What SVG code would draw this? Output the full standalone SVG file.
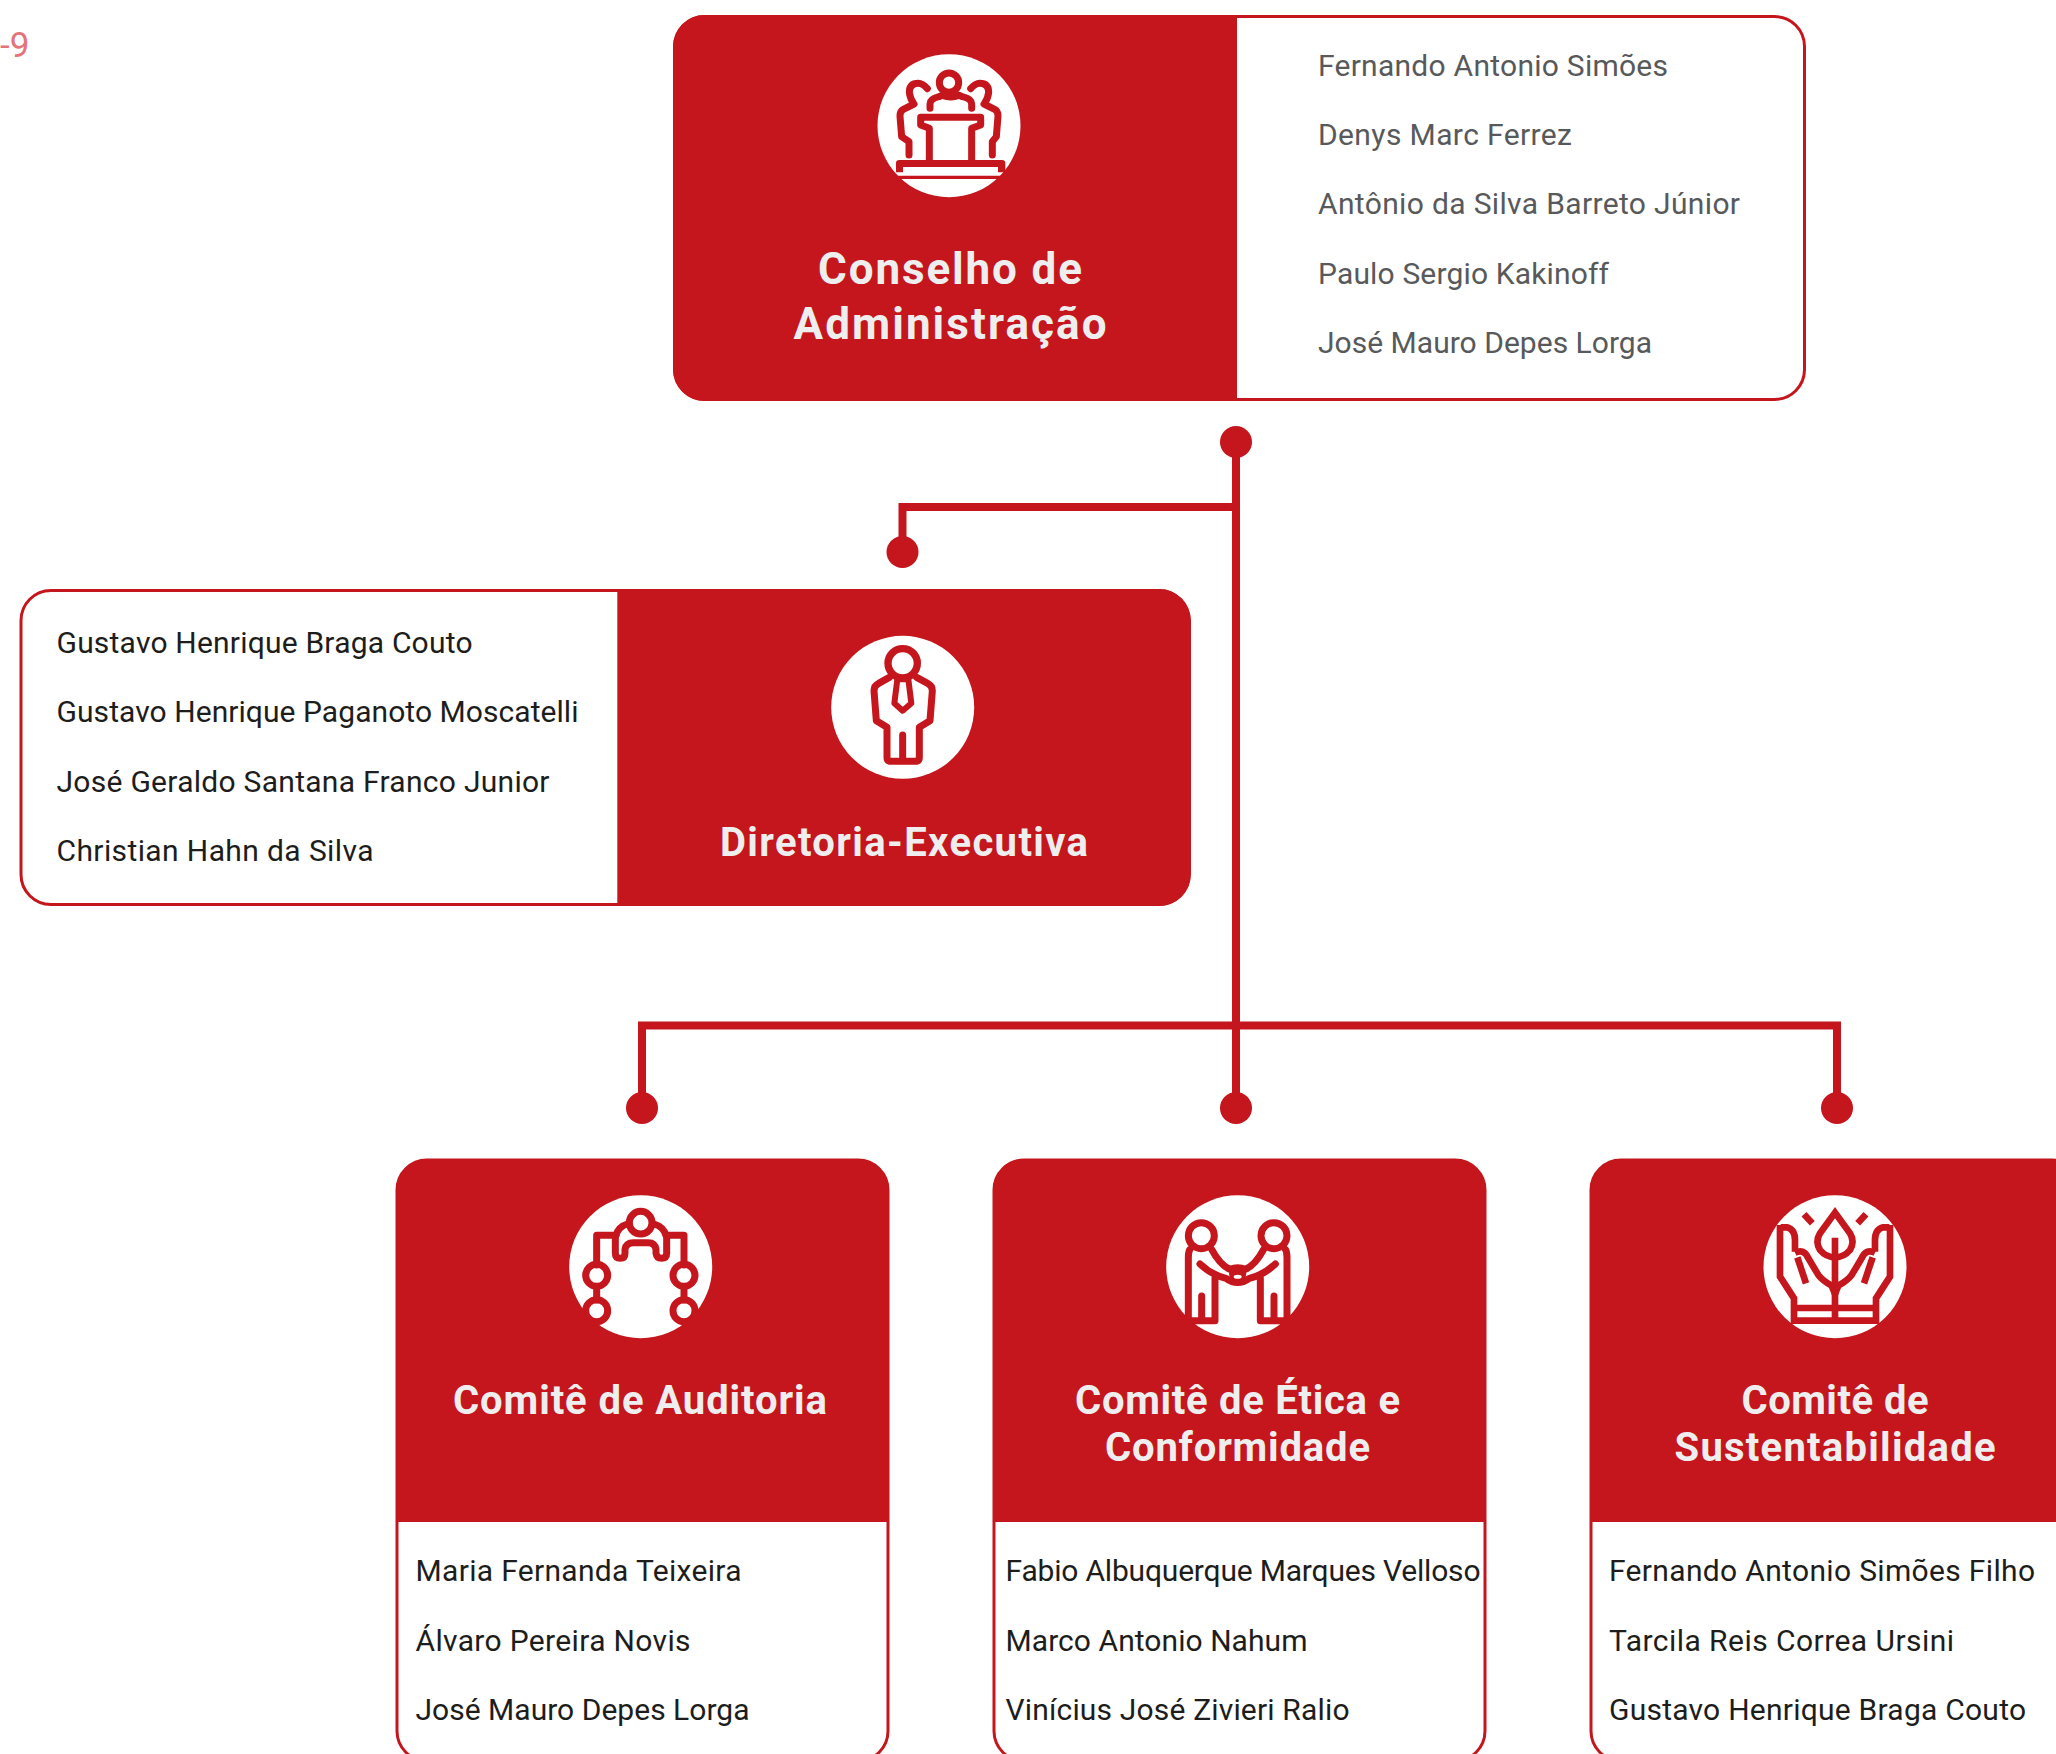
<svg xmlns="http://www.w3.org/2000/svg" width="2056" height="1754" viewBox="0 0 2056 1754">
<style>
.bg{fill:#fff}
.frame{fill:#fff;stroke:#c4161c;stroke-width:3}
.red{fill:#c4161c}
.disc{fill:#fff}
.ic{fill:none;stroke:#c4161c;stroke-width:21;stroke-linecap:round;stroke-linejoin:round}
.ic2{fill:none;stroke:#c4161c;stroke-width:20;stroke-linecap:butt;stroke-linejoin:miter}
.h{font-family:Roboto,"Liberation Sans",sans-serif;font-weight:700;font-size:40px;fill:#eeeeef;text-anchor:middle}
.big{font-size:44px}
.n{font-family:Roboto,"Liberation Sans",sans-serif;font-weight:400;font-size:30px;fill:#1d1d1b}
.g{fill:#58595b}
.wire{fill:none;stroke:#c4161c;stroke-width:8}
</style>
<rect class="bg" width="2056" height="1754"/>
<text x="0" y="57" font-family="Roboto,'Liberation Sans',sans-serif" font-size="35" fill="#e5737a">-9</text>

<g id="connectors">
<path class="wire" d="M1236 442V1108M1236 507H902.500V552M642 1108V1025.500H1837V1108"/>
<circle class="red" cx="1236" cy="442" r="16"/>
<circle class="red" cx="902.500" cy="552" r="16"/>
<circle class="red" cx="642" cy="1108" r="16"/>
<circle class="red" cx="1236" cy="1108" r="16"/>
<circle class="red" cx="1837" cy="1108" r="16"/>
</g>

<g id="conselho">
<rect class="frame" x="674.500" y="16.500" width="1130" height="383" rx="30"/>
<path class="red" d="M1237 15H705A32 32 0 0 0 673 47V369A32 32 0 0 0 705 401H1237Z"/>
<circle class="disc" cx="949" cy="125.700" r="71.500"/>
<g transform="translate(850 30) scale(.33333)">
<circle class="ic" cx="297" cy="158" r="29"/>
<path class="ic" d="M235 235V222Q235 206 262 200L272 196Q297 206 322 196L332 200Q360 206 360 222V235" transform="translate(5 0)"/>
<path class="ic" d="M232 176Q218 160 205 160Q178 160 178 187Q180 206 192 222L160 238Q150 243 150 258L155 320L177 335V375"/>
<path class="ic" d="M362 176Q376 160 389 160Q416 160 416 187Q414 206 402 222L434 238Q444 243 444 258L439 320L427 335V375"/>
<path class="ic" d="M238 395V295L212 285V262H392V285L365 295V395"/>
<path class="red" d="M138 437V400Q138 390 148 390H456Q466 390 466 400V437ZM159 411V427H444V411Z M138 427H466V447H138Z" fill-rule="evenodd"/>
</g>
<text class="h big" x="950" y="284" textLength="264">Conselho de</text>
<text class="h big" x="950" y="339" textLength="313">Administração</text>
<text class="n g" x="1318" y="76" textLength="350">Fernando Antonio Simões</text>
<text class="n g" x="1318" y="145" textLength="254">Denys Marc Ferrez</text>
<text class="n g" x="1318" y="214" textLength="422">Antônio da Silva Barreto Júnior</text>
<text class="n g" x="1318" y="284" textLength="291">Paulo Sergio Kakinoff</text>
<text class="n g" x="1318" y="353" textLength="334">José Mauro Depes Lorga</text>
</g>

<g id="diretoria">
<rect class="frame" x="21" y="590.500" width="1168" height="314" rx="30"/>
<path class="red" d="M617.300 589H1159A32 32 0 0 1 1191 621V874A32 32 0 0 1 1159 906H617.300Z"/>
<circle class="disc" cx="902.700" cy="707.300" r="71.500"/>
<g transform="translate(800 620) scale(.33333)">
<circle class="ic" cx="308" cy="130" r="44" style="stroke-width:22"/>
<path class="ic" d="M268 172L236 190Q222 197 222 212L229 302L261 322V412Q261 424 273 424H346Q358 424 358 412V322L390 302L397 212Q397 197 383 190L350 172"/>
<path class="ic" d="M308 345V420"/>
<path class="ic" d="M292 178L283 250L308 272L334 250L325 178Z" style="stroke-width:18"/>
</g>
<text class="h" x="904" y="856" textLength="368">Diretoria-Executiva</text>
<text class="n" x="56.500" y="653" textLength="416">Gustavo Henrique Braga Couto</text>
<text class="n" x="56.500" y="722" textLength="522">Gustavo Henrique Paganoto Moscatelli</text>
<text class="n" x="56.500" y="792" textLength="493">José Geraldo Santana Franco Junior</text>
<text class="n" x="56.500" y="861" textLength="317">Christian Hahn da Silva</text>
</g>

<g id="auditoria">
<rect class="frame" x="397" y="1160" width="491" height="601" rx="30"/>
<path class="red" d="M396 1522V1191A32 32 0 0 1 428 1159H857A32 32 0 0 1 889 1191V1522Z"/>
<circle class="disc" cx="640.700" cy="1266.700" r="71.500"/>
<g transform="translate(540 1170) scale(.33333)">
<circle class="ic" cx="302" cy="158" r="34"/>
<path class="ic" d="M170 285V196H228M432 285V196H378"/>
<path class="ic" d="M228 196Q235 170 262 162M342 162Q370 170 378 196M226 196V250Q226 265 241 265Q255 265 255 250V238Q258 218 280 218H325Q345 218 348 238V250Q350 265 364 265Q380 265 380 250V196"/>
<circle class="ic" cx="170" cy="316" r="33"/>
<circle class="ic" cx="432" cy="316" r="33"/>
<circle class="ic" cx="170" cy="422" r="33"/>
<circle class="ic" cx="432" cy="422" r="33"/>
<path class="ic" d="M170 350V390M432 350V390"/>
</g>
<text class="h" x="640" y="1413.500" textLength="374">Comitê de Auditoria</text>
<text class="n" x="415.500" y="1581" textLength="326">Maria Fernanda Teixeira</text>
<text class="n" x="415.500" y="1651" textLength="275">Álvaro Pereira Novis</text>
<text class="n" x="415.500" y="1720" textLength="334">José Mauro Depes Lorga</text>
</g>

<g id="etica">
<rect class="frame" x="994" y="1160" width="491" height="601" rx="30"/>
<path class="red" d="M993 1522V1191A32 32 0 0 1 1025 1159H1454A32 32 0 0 1 1486 1191V1522Z"/>
<circle class="disc" cx="1237.700" cy="1266.700" r="71.500"/>
<g transform="translate(1140 1170) scale(.33333)">
<circle class="ic" cx="184" cy="197" r="39"/>
<circle class="ic" cx="402" cy="197" r="39"/>
<path class="ic" d="M150 238Q145 245 145 262V452H225V325M436 238Q441 245 441 262V452H361V325"/>
<path class="ic" d="M185 378V445M402 378V445"/>
<path class="ic" d="M215 238Q240 285 270 298Q293 288 316 298Q346 285 371 238"/>
<path class="ic" d="M180 282Q215 315 258 325Q293 350 328 325Q371 315 406 282"/>
<ellipse class="red" cx="293" cy="312" rx="26" ry="20"/>
<ellipse class="disc" cx="293" cy="320" rx="12" ry="6"/>
</g>
<text class="h" x="1237.500" y="1413.500" textLength="325">Comitê de Ética e</text>
<text class="h" x="1237.500" y="1460.500" textLength="265">Conformidade</text>
<text class="n" x="1005.500" y="1581" textLength="475">Fabio Albuquerque Marques Velloso</text>
<text class="n" x="1005.500" y="1651" textLength="302">Marco Antonio Nahum</text>
<text class="n" x="1005.500" y="1720" textLength="344">Vinícius José Zivieri Ralio</text>
</g>

<g id="sustentabilidade">
<rect class="frame" x="1591" y="1160" width="491" height="601" rx="30"/>
<path class="red" d="M1590 1522V1191A32 32 0 0 1 1622 1159H2051A32 32 0 0 1 2083 1191V1522Z"/>
<circle class="disc" cx="1835" cy="1266.700" r="71.500"/>
<g transform="translate(1740 1170) scale(.33333)">
<path class="ic2" d="M285 128L240 190Q225 215 240 240Q258 262 285 262Q312 262 330 240Q345 215 330 190Z"/>
<path class="ic2" d="M285 203V445M162 414H408M162 452H408"/>
<path class="ic2" d="M122 172H140Q165 178 165 210V245M448 172H430Q405 178 405 210V245"/>
<path class="ic2" d="M120 165V320L162 385V462M450 165V320L408 385V462"/>
<path class="ic2" d="M165 248Q192 235 205 265L235 315Q248 332 275 347L285 372M405 248Q378 235 365 265L335 315Q322 332 295 347L285 372"/>
<path class="ic2" d="M172 262L198 340M398 262L372 340"/>
<path class="ic2" d="M192 133L217 160M378 133L353 160"/>
</g>
<text class="h" x="1835" y="1413.500" textLength="187">Comitê de</text>
<text class="h" x="1835" y="1460.500" textLength="321">Sustentabilidade</text>
<text class="n" x="1609" y="1581" textLength="426">Fernando Antonio Simões Filho</text>
<text class="n" x="1609" y="1651" textLength="345">Tarcila Reis Correa Ursini</text>
<text class="n" x="1609" y="1720" textLength="417">Gustavo Henrique Braga Couto</text>
</g>
</svg>
